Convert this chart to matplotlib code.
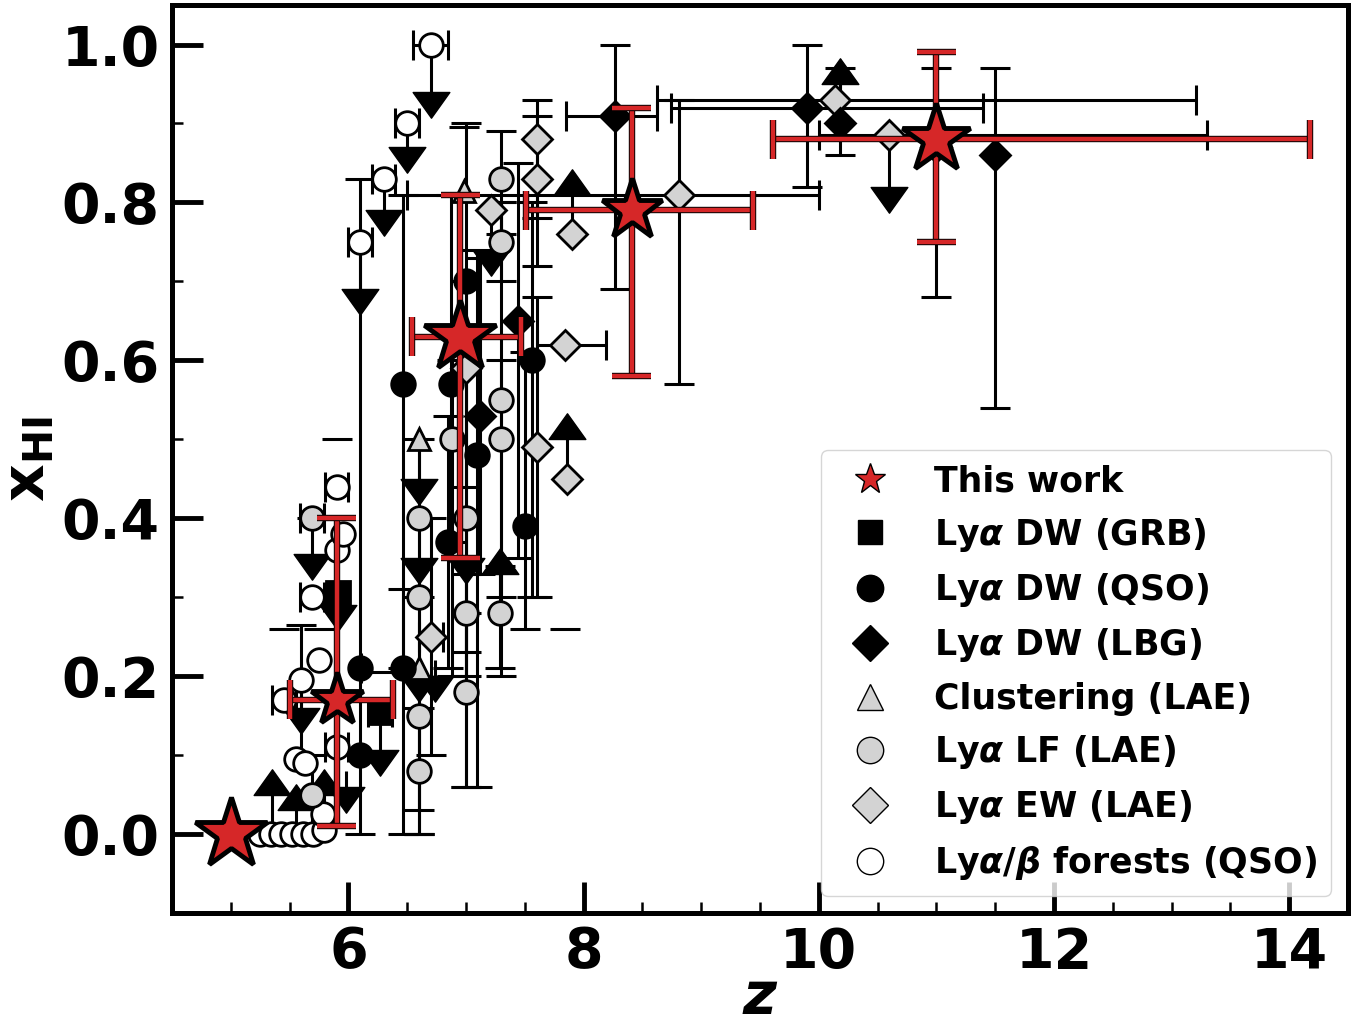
import numpy as np
import matplotlib
matplotlib.use('Agg')
import matplotlib.pyplot as plt
import matplotlib.patheffects as pe
from matplotlib.path import Path
from matplotlib.lines import Line2D
from matplotlib.ticker import MultipleLocator, FormatStrFormatter

nan = np.nan

# ---- this work (red stars)
tw_z = [5.0, 5.9, 6.95, 8.41, 11.0]
tw_x = [0.0, 0.17, 0.63, 0.79, 0.88]
tw_zlo = [nan, 0.40, 0.41, 0.90, 1.39]
tw_zhi = [nan, 0.48, 0.52, 1.03, 3.18]
tw_xlo = [nan, 0.16, 0.28, 0.21, 0.13]
tw_xhi = [nan, 0.23, 0.18, 0.13, 0.11]

# ---- Lya DW (GRB)
grb_z = [5.91, 6.27]
grb_x = [0.305, 0.155]
grb_zlo = [nan, 0.10]
grb_zhi = [nan, 0.10]
grb_xlo = [nan, nan]
grb_xhi = [nan, 0.05]

# ---- Lya DW (QSO)
qso_z = [6.10, 6.10, 6.46, 6.46, 6.87, 6.85, 7.00, 7.09, 7.50, 7.56]
qso_x = [0.21, 0.10, 0.57, 0.21, 0.57, 0.37, 0.70, 0.48, 0.39, 0.60]
qso_zlo = [nan, nan, nan, 0.35, nan, nan, nan, nan, nan, nan]
qso_zhi = [nan, nan, nan, nan, nan, nan, nan, nan, nan, nan]
qso_xlo = [0.21, nan, 0.36, 0.21, 0.20, 0.16, 0.64, 0.42, 0.13, 0.30]
qso_xhi = [0.62, nan, 0.24, 0.10, 0.24, 0.16, 0.20, 0.26, 0.22, 0.20]

# ---- Lya DW (LBG)
lbg_z = [7.12, 7.44, 8.27, 9.90, 10.18, 11.0, 11.5]
lbg_x = [0.53, 0.65, 0.91, 0.92, 0.90, 0.87, 0.86]
lbg_zlo = [nan, nan, 0.42, 1.16, nan, nan, nan]
lbg_zhi = [nan, nan, 0.35, 1.50, nan, nan, nan]
lbg_xlo = [0.20, 0.30, 0.22, 0.10, 0.04, 0.19, 0.32]
lbg_xhi = [0.20, 0.20, 0.09, 0.08, 0.07, 0.10, 0.11]

# ---- Clustering (LAE)
cl_z = [6.6, 6.6, 6.98]
cl_x = [0.50, 0.21, 0.815]
cl_zlo = [nan, nan, nan]
cl_zhi = [nan, nan, nan]
cl_xlo = [nan, 0.21, nan]
cl_xhi = [nan, nan, 0.08]

# ---- Lya LF (LAE)
lf_z = [5.69, 5.69, 6.6, 6.6, 6.6, 6.6, 6.88, 7.0, 7.0, 7.0, 7.3, 7.3, 7.3, 7.3, 7.29]
lf_x = [0.40, 0.05, 0.40, 0.30, 0.15, 0.08, 0.50, 0.40, 0.28, 0.18, 0.83, 0.75, 0.55, 0.50, 0.28]
lf_zlo = [0.10, nan, nan, nan, nan, nan, nan, nan, nan, nan, nan, nan, nan, nan, nan]
lf_zhi = [0.10, nan, nan, nan, nan, nan, nan, nan, nan, nan, nan, nan, nan, nan, nan]
lf_xlo = [nan, 0.05, nan, 0.27, 0.15, 0.08, 0.30, 0.20, 0.05, 0.12, 0.07, 0.05, 0.25, 0.30, 0.07]
lf_xhi = [nan, 0.05, nan, 0.20, 0.15, 0.08, 0.10, 0.20, 0.05, 0.10, 0.06, 0.05, 0.25, 0.10, 0.06]

# ---- Lya EW (LAE)
ew_z = [6.7, 7.0, 7.21, 7.6, 7.6, 7.6, 7.84, 7.86, 7.9, 8.81, 10.14, 10.6]
ew_x = [0.25, 0.59, 0.79, 0.88, 0.83, 0.49, 0.62, 0.45, 0.76, 0.81, 0.93, 0.885]
ew_zlo = [0.10, nan, nan, nan, nan, nan, 0.24, nan, nan, 2.31, 1.52, 0.60]
ew_zhi = [0.10, nan, nan, nan, nan, nan, 0.35, nan, nan, 1.19, 3.07, 2.70]
ew_xlo = [0.15, 0.15, nan, 0.10, 0.11, 0.19, 0.36, nan, nan, 0.24, nan, nan]
ew_xhi = [0.15, 0.11, nan, 0.05, 0.08, 0.19, nan, nan, nan, 0.12, nan, nan]

# ---- Lya/beta forests (QSO)
fo_z = [5.25, 5.34, 5.43, 5.52, 5.61, 5.70, 5.79, 5.45, 5.55, 5.63, 5.60, 5.75, 5.69,
        5.90, 5.95, 5.90, 5.90, 5.78, 6.1, 6.3, 6.5, 6.7]
fo_x = [0.0, 0.0, 0.0, 0.0, 0.0, 0.0, 0.005, 0.17, 0.095, 0.09, 0.195, 0.22, 0.30,
        0.36, 0.38, 0.44, 0.11, 0.025, 0.75, 0.83, 0.90, 1.0]
fo_zlo = [nan, nan, nan, nan, nan, nan, nan, 0.10, nan, nan, nan, nan, 0.10,
          nan, nan, 0.10, 0.10, nan, 0.10, 0.10, 0.10, 0.15]
fo_zhi = [nan, nan, nan, nan, nan, nan, nan, 0.10, nan, nan, nan, nan, 0.10,
          nan, nan, 0.10, 0.10, nan, 0.10, 0.10, 0.10, 0.15]
fo_xlo = [nan, nan, nan, nan, nan, nan, nan, nan, nan, nan, 0.10, nan, nan,
          nan, nan, nan, nan, nan, nan, nan, nan, nan]
fo_xhi = [nan, nan, nan, nan, nan, nan, nan, 0.09, nan, nan, 0.07, 0.04, 0.10,
          nan, nan, 0.06, nan, nan, nan, nan, nan, nan]

# ---- limit arrows (drawn as black triangles)
dn_z = [6.1, 6.3, 6.5, 6.7, 5.69, 5.91, 5.60, 6.27, 6.6, 6.6, 6.6, 6.74, 7.0, 7.21, 10.6, 5.98]
dn_from = [0.75, 0.83, 0.90, 1.0, 0.40, 0.305, 0.195, 0.155, 0.50, 0.40, 0.21, 0.22, 0.40, 0.79, 0.885, 0.08]
dn_to = [0.69, 0.79, 0.87, 0.94, 0.355, 0.29, 0.16, 0.107, 0.45, 0.35, 0.20, 0.20, 0.35, 0.74, 0.82, 0.06]

up_z = [10.18, 7.9, 7.86, 7.29, 5.35, 5.79, 5.55]
up_from = [0.93, 0.76, 0.45, 0.28, 0.0, 0.0, 0.0]
up_to = [0.95, 0.81, 0.50, 0.33, 0.05, 0.05, 0.03]

labels = ['This work', r'Ly$\mathbfit{\alpha}$ DW (GRB)', r'Ly$\mathbfit{\alpha}$ DW (QSO)',
          r'Ly$\mathbfit{\alpha}$ DW (LBG)', 'Clustering (LAE)', r'Ly$\mathbfit{\alpha}$ LF (LAE)',
          r'Ly$\mathbfit{\alpha}$ EW (LAE)', r'Ly$\mathbfit{\alpha}$/$\mathbfit{\beta}$ forests (QSO)']

plt.rcParams['font.family'] = 'DejaVu Sans'
plt.rcParams['font.weight'] = 'bold'
plt.rcParams['mathtext.fontset'] = 'dejavusans'

red = '#d62728'
gray = '#d3d3d3'

fig = plt.figure(figsize=(13.71, 10.29), dpi=100)
ax = fig.add_axes([0.1255, 0.1127, 0.8577, 0.8824])


def series(z, x, zlo, zhi, xlo, xhi, marker, face, ms):
    ax.errorbar(z, x, xerr=np.array([zlo, zhi]), yerr=np.array([xlo, xhi]), fmt='none',
                ecolor='k', elinewidth=2.2, capsize=10.5, capthick=2.2, zorder=2)
    ax.plot(z, x, ls='none', marker=marker, mfc=face, mec='k', mew=2, ms=ms, zorder=3)


series(fo_z, fo_x, fo_zlo, fo_zhi, fo_xlo, fo_xhi, 'o', 'white', 17)
series(lf_z, lf_x, lf_zlo, lf_zhi, lf_xlo, lf_xhi, 'o', gray, 17)
series(ew_z, ew_x, ew_zlo, ew_zhi, ew_xlo, ew_xhi, 'D', gray, 15)
series(cl_z, cl_x, cl_zlo, cl_zhi, cl_xlo, cl_xhi, '^', gray, 16)
series(lbg_z, lbg_x, lbg_zlo, lbg_zhi, lbg_xlo, lbg_xhi, 'D', 'k', 15)
series(qso_z, qso_x, qso_zlo, qso_zhi, qso_xlo, qso_xhi, 'o', 'k', 17)
series(grb_z, grb_x, grb_zlo, grb_zhi, grb_xlo, grb_xhi, 's', 'k', 17)

# limit arrows: line + triangle whose base sits at the limit
tri_dn = Path([(-1, 0), (1, 0), (0, -1.4), (-1, 0)], closed=True)
tri_up = Path([(-1, 0), (1, 0), (0, 1.4), (-1, 0)], closed=True)
ax.vlines(dn_z, dn_to, dn_from, color='k', lw=2.2, zorder=2)
ax.vlines(up_z, up_from, up_to, color='k', lw=2.2, zorder=2)
ax.plot(dn_z, dn_to, ls='none', marker=tri_dn, ms=37, color='k', zorder=2.5)
ax.plot(up_z, up_to, ls='none', marker=tri_up, ms=37, color='k', zorder=2.5)

# this work
eb = ax.errorbar(tw_z, tw_x, xerr=np.array([tw_zlo, tw_zhi]), yerr=np.array([tw_xlo, tw_xhi]),
                 fmt='none', ecolor=red, elinewidth=3.2, capsize=14, capthick=3.2, zorder=5)
for art in list(eb.lines[1]) + list(eb.lines[2]):
    art.set_path_effects([pe.Stroke(linewidth=4.6, foreground='k'), pe.Normal()])
star_ms = [54, 40, 54, 46, 52]
for z, x, s in zip(tw_z, tw_x, star_ms):
    ax.plot(z, x, ls='none', marker='*', mfc=red, mec='k', mew=3.5, ms=s, zorder=6)

ax.set_xlim(4.5, 14.5)
ax.set_ylim(-0.1, 1.05)
ax.xaxis.set_major_locator(MultipleLocator(2))
ax.xaxis.set_minor_locator(MultipleLocator(0.5))
ax.yaxis.set_major_locator(MultipleLocator(0.2))
ax.yaxis.set_minor_locator(MultipleLocator(0.1))
ax.yaxis.set_major_formatter(FormatStrFormatter('%.1f'))
ax.tick_params(which='major', direction='in', length=22, width=3.5, labelsize=40, pad=9)
ax.tick_params(which='minor', direction='in', length=8, width=1.8)
for sp in ax.spines.values():
    sp.set_linewidth(3.6)

ax.set_xlabel(r'$\mathbfit{z}$', fontsize=42, va='baseline')
ax.xaxis.set_label_coords(0.5, -0.111)
ax.set_ylabel(r'$\mathbf{x_{HI}}$', fontsize=42)
ax.yaxis.set_label_coords(-0.0985, 0.5)

handles = [
    Line2D([], [], ls='none', marker='*', mfc=red, mec='k', mew=1, ms=23),
    Line2D([], [], ls='none', marker='s', mfc='k', mec='k', mew=1, ms=17),
    Line2D([], [], ls='none', marker='o', mfc='k', mec='k', mew=1, ms=19),
    Line2D([], [], ls='none', marker='D', mfc='k', mec='k', mew=1, ms=18),
    Line2D([], [], ls='none', marker='^', mfc=gray, mec='k', mew=1, ms=19),
    Line2D([], [], ls='none', marker='o', mfc=gray, mec='k', mew=1, ms=19),
    Line2D([], [], ls='none', marker='D', mfc=gray, mec='k', mew=1, ms=18),
    Line2D([], [], ls='none', marker='o', mfc='white', mec='k', mew=1, ms=19),
]
ax.legend(handles, labels, loc='lower right', prop={'size': 25, 'weight': 'bold'},
          labelspacing=0.5, handlelength=2.0, handletextpad=0.85, borderpad=0.4)

fig.savefig('out.png', dpi=100)
